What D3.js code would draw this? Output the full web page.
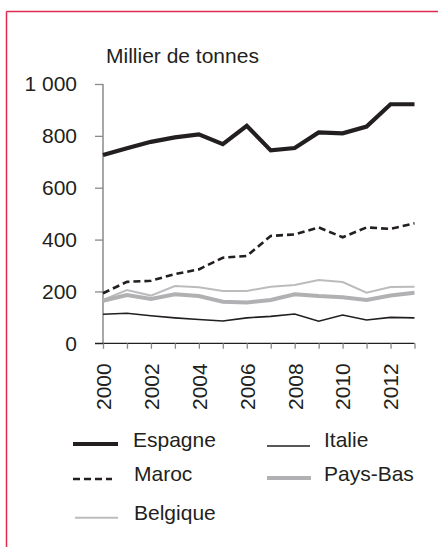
<!DOCTYPE html>
<html><head><meta charset="utf-8">
<script src="https://cdn.jsdelivr.net/npm/d3@7/dist/d3.min.js"></script>
<style>
body{margin:0;background:#fff;}
svg{display:block;font-family:"Liberation Sans",Arial,sans-serif;}
</style></head>
<body>
<svg id="c" width="438" height="547"></svg>
<script>
const years = [2000,2001,2002,2003,2004,2005,2006,2007,2008,2009,2010,2011,2012,2013];
const espagne  = [726,752,777,794,806,768,839,744,753,813,810,836,922,922];
const maroc    = [193,237,241,267,285,330,337,414,420,447,409,447,441,463];
const belgique = [167,205,184,221,216,202,202,218,225,244,236,195,217,218];
const paysBas  = [164,186,171,189,182,160,157,167,189,182,178,167,184,195];
const italie   = [112,116,106,98,92,86,98,104,113,85,109,90,100,98];
const yTicks = [0,200,400,600,800,1000];
const yTickLabels = ["0","200","400","600","800","1 000"];
const xTickLabels = ["2000","","2002","","2004","","2006","","2008","","2010","","2012",""];
const unitLabel = "Millier de tonnes";

const series = [
  {name:"Belgique", values:belgique, color:"#bcbcbe", width:2, dash:null},
  {name:"Pays-Bas", values:paysBas, color:"#b1b1b3", width:4, dash:null},
  {name:"Italie", values:italie, color:"#231f20", width:1.6, dash:null},
  {name:"Maroc", values:maroc, color:"#231f20", width:2.6, dash:"7,4"},
  {name:"Espagne", values:espagne, color:"#231f20", width:4.2, dash:null}
];
const legendOrder = ["Espagne","Italie","Maroc","Pays-Bas","Belgique"];

const FS = 21;
const svg = d3.select("#c");
const txt = "#231f20";
// frame
svg.append("line").attr("x1",6.5).attr("x2",438).attr("y1",11.5).attr("y2",11.5).attr("stroke","#e0294f").attr("stroke-width",1.5);
svg.append("line").attr("x1",6.5).attr("x2",6.5).attr("y1",11.5).attr("y2",547).attr("stroke","#e0294f").attr("stroke-width",1.5);

const x = d3.scaleLinear().domain([2000,2013]).range([103,414.5]);
const y = d3.scaleLinear().domain([0,1000]).range([343.3,84]);

// y axis
const ya = svg.append("g").attr("transform","translate(103,0)")
  .call(d3.axisLeft(y).tickValues(yTicks).tickSize(8).tickPadding(18)
    .tickFormat((d,i)=>yTickLabels[i]));
ya.select(".domain").attr("stroke","#8a8a8a").attr("stroke-width",1.5).attr("d","M0,84V343.3");
ya.selectAll(".tick line").attr("stroke","#8a8a8a").attr("stroke-width",1.3);
ya.selectAll("text").attr("font-size",FS).attr("fill",txt).attr("font-family","Liberation Sans, Arial, sans-serif");

// x axis
const xa = svg.append("g").attr("transform","translate(0,343.3)")
  .call(d3.axisBottom(x).tickValues(years).tickSize(5.5).tickFormat((d,i)=>xTickLabels[i]));
xa.select(".domain").attr("stroke",txt).attr("stroke-width",1.3).attr("d","M"+(x(2000)-8)+",0H"+x(2013));
xa.selectAll(".tick line").attr("stroke","#8a8a8a").attr("stroke-width",1.3);
xa.selectAll("text").attr("font-size",FS).attr("fill",txt).attr("font-family","Liberation Sans, Arial, sans-serif")
  .attr("transform","rotate(-90)").attr("text-anchor","end").attr("x",-20).attr("y",0).attr("dy","0.35em");

svg.append("text").attr("x",106).attr("y",63).attr("font-size",FS).attr("fill",txt).text(unitLabel);

const line = d3.line().x((d,i)=>x(years[i])).y(d=>y(d)).curve(d3.curveLinear);
series.forEach(s=>{
  svg.append("path").datum(s.values).attr("d",line).attr("fill","none")
    .attr("stroke",s.color).attr("stroke-width",s.width).attr("stroke-linejoin","miter")
    .attr("stroke-dasharray",s.dash);
});

// legend
const legPos = {
  "Espagne":{lx:73,lx2:118,ly:444,tx:133,ty:447},
  "Italie":{lx:267,lx2:310,ly:446,tx:324,ty:447},
  "Maroc":{lx:73,lx2:112,ly:479,tx:134,ty:481},
  "Pays-Bas":{lx:267,lx2:311,ly:478,tx:324,ty:481},
  "Belgique":{lx:75,lx2:118,ly:517.7,tx:134,ty:519.5}
};
legendOrder.forEach(n=>{
  const s = series.find(d=>d.name===n), p = legPos[n];
  svg.append("line").attr("x1",p.lx).attr("x2",p.lx2).attr("y1",p.ly).attr("y2",p.ly)
    .attr("stroke",s.color).attr("stroke-width",s.width).attr("stroke-dasharray",s.dash);
  svg.append("text").attr("x",p.tx).attr("y",p.ty).attr("font-size",FS).attr("fill",txt).text(n);
});
</script>
</body></html>
